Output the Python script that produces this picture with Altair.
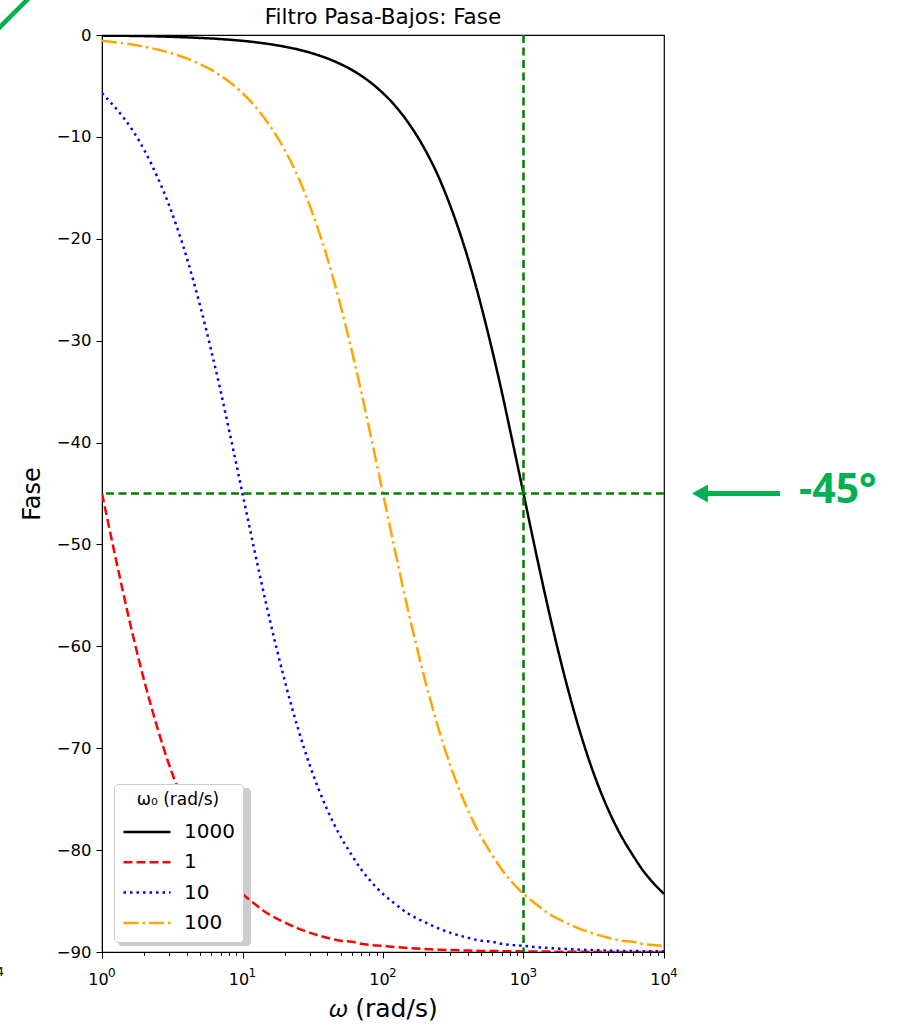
import altair as alt
import pandas as pd

# Frequency samples (rad/s) read along the x axis
w = [1, 2, 3, 4, 5, 6, 7, 8, 9, 10, 12, 15, 20, 25, 30, 40, 50, 60, 70, 80,
     100, 120, 150, 200, 250, 300, 400, 500, 600, 700, 800,
     1000, 1200, 1500, 2000, 2500, 3000, 4000, 5000, 6000, 7000, 8000, 10000]

# Phase (degrees) for each curve
fase_1000 = [-0.06, -0.11, -0.17, -0.23, -0.29, -0.34, -0.40, -0.46, -0.52, -0.57,
             -0.69, -0.86, -1.15, -1.43, -1.72, -2.29, -2.86, -3.43, -4.0, -4.57,
             -5.71, -6.84, -8.53, -11.3, -14.0, -16.7, -21.8, -26.6, -31.0, -35.0, -38.7,
             -45.0, -50.2, -56.3, -63.4, -68.2, -71.6, -76.0, -78.7, -80.5, -81.9, -82.9, -84.3]
fase_1 = [-45.0, -63.4, -71.6, -76.0, -78.7, -80.5, -81.9, -82.9, -83.7, -84.3,
          -85.2, -86.2, -87.1, -87.7, -88.1, -88.6, -88.9, -89.0, -89.2, -89.3,
          -89.4, -89.5, -89.6, -89.7, -89.77, -89.81, -89.86, -89.89, -89.9, -89.92, -89.93,
          -89.94, -89.95, -89.96, -89.97, -89.98, -89.98, -89.99, -89.99, -89.99, -89.99, -89.99, -89.99]
fase_10 = [-5.7, -11.3, -16.7, -21.8, -26.6, -31.0, -35.0, -38.7, -42.0, -45.0,
           -50.2, -56.3, -63.4, -68.2, -71.6, -76.0, -78.7, -80.5, -81.9, -82.9,
           -84.3, -85.2, -86.2, -87.1, -87.7, -88.1, -88.6, -88.9, -89.0, -89.2, -89.3,
           -89.4, -89.5, -89.6, -89.7, -89.77, -89.81, -89.86, -89.89, -89.9, -89.92, -89.93, -89.94]
fase_100 = [-0.57, -1.15, -1.72, -2.29, -2.86, -3.43, -4.0, -4.57, -5.14, -5.71,
            -6.84, -8.53, -11.3, -14.0, -16.7, -21.8, -26.6, -31.0, -35.0, -38.7,
            -45.0, -50.2, -56.3, -63.4, -68.2, -71.6, -76.0, -78.7, -80.5, -81.9, -82.9,
            -84.3, -85.2, -86.2, -87.1, -87.7, -88.1, -88.6, -88.9, -89.0, -89.2, -89.3, -89.4]

series_names = ["1000", "1", "10", "100"]
series_vals = [fase_1000, fase_1, fase_10, fase_100]
series_colors = ["black", "red", "blue", "orange"]
series_dash = [[1, 0], [9, 4], [2.5, 4], [15, 4, 2.5, 4]]

# x-axis decade labels: 10^k
decades = [1, 10, 100, 1000, 10000]
exponents = ["0", "1", "2", "3", "4"]

# reference lines
ref_w = [1000]
ref_fase = [-45]

rows = []
for name, vals in zip(series_names, series_vals):
    for i, (x, y) in enumerate(zip(w, vals)):
        rows.append({"w": x, "fase": y, "w0": name, "order": i})
df = pd.DataFrame(rows)

W, H = 562, 917
FONT = "DejaVu Sans"

xscale = alt.Scale(type="log", domain=[1, 10000], nice=False)
yscale = alt.Scale(domain=[-90, 0], nice=False)

major = "indexof([1,10,100,1000,10000], datum.value) >= 0"
xticks = [m * 10 ** e for e in range(4) for m in range(1, 10)] + [10000]

legend = alt.Legend(
    title="ω₀ (rad/s)", orient="none", legendX=12, legendY=749,
    symbolType="stroke", symbolSize=2209, symbolStrokeWidth=2.5,
    clipHeight=22, rowPadding=8.3, labelOffset=12,
    labelFontSize=20, labelFont=FONT, labelColor="black",
    titleFontSize=17, titleFont=FONT, titleFontWeight="normal", titleColor="black",
    titleAnchor="middle", titlePadding=12,
    fillColor="white", strokeColor="#cccccc", cornerRadius=4, padding=8,
)

lines = alt.Chart(df).mark_line(strokeWidth=2.5, clip=True, interpolate="monotone").encode(
    x=alt.X("w:Q", scale=xscale, title="𝜔 (rad/s)",
            axis=alt.Axis(values=xticks,
                          labelExpr=major + " ? '10' : ''",
                          tickSize={"condition": {"test": major, "value": 6}, "value": 3.5},
                          grid=False, labelFontSize=16, labelFont=FONT, labelPadding=13,
                          labelOffset=-4, labelFlush=False, labelOverlap=False,
                          titleFontSize=25, titleFont=FONT, titleFontWeight="normal",
                          titlePadding=9, domainColor="black", tickColor="black",
                          labelColor="black", titleColor="black")),
    y=alt.Y("fase:Q", scale=yscale, title="Fase",
            axis=alt.Axis(values=list(range(-90, 1, 10)), grid=False, tickSize=6,
                          labelFontSize=16.5, labelFont=FONT, labelPadding=5,
                          titleFontSize=24, titleFont=FONT, titleFontWeight="normal",
                          titlePadding=12, domainColor="black", tickColor="black",
                          labelColor="black", titleColor="black")),
    color=alt.Color("w0:N", scale=alt.Scale(domain=series_names, range=series_colors), legend=legend),
    strokeDash=alt.StrokeDash("w0:N", scale=alt.Scale(domain=series_names, range=series_dash), legend=legend),
    order="order:Q",
    detail="w0:N",
)

# exponents of the decade tick labels
exp_df = pd.DataFrame({"w": decades, "e": exponents})
exps = alt.Chart(exp_df).mark_text(font=FONT, fontSize=12, color="black", align="left",
                                   baseline="top", dx=6, clip=False).encode(
    x=alt.X("w:Q", scale=xscale), y=alt.value(H + 16), text="e:N")

ref_df = pd.DataFrame({"w": ref_w, "fase": ref_fase})
vline = alt.Chart(ref_df).mark_rule(color="green", strokeWidth=2.5, strokeDash=[8, 4.5]).encode(
    x=alt.X("w:Q", scale=xscale))
hline = alt.Chart(ref_df).mark_rule(color="green", strokeWidth=2.5, strokeDash=[8, 4.5]).encode(
    y=alt.Y("fase:Q", scale=yscale))

# legend shadow
shadow = alt.Chart(ref_df).mark_rect(color="#aaaaaa", opacity=0.6, cornerRadius=4).encode(
    x=alt.value(16), x2=alt.value(149), y=alt.value(753), y2=alt.value(911))

# chart title as text
title = alt.Chart(pd.DataFrame({"t": ["Filtro Pasa-Bajos: Fase"]})).mark_text(
    font=FONT, fontSize=21.5, color="black", align="center", baseline="middle", clip=False).encode(
    x=alt.value(W / 2), y=alt.value(-17), text="t:N")

# annotation: arrow and -45°
ann_green = "#00B050"
arrow_shaft = alt.Chart(ref_df).mark_rule(color=ann_green, strokeWidth=5, clip=False).encode(
    x=alt.value(600), x2=alt.value(678), y=alt.Y("fase:Q", scale=yscale))
arrow_head = alt.Chart(ref_df).mark_point(shape="triangle-left", filled=True, color=ann_green,
                                          opacity=1, size=330, clip=False).encode(
    x=alt.value(598), y=alt.Y("fase:Q", scale=yscale))
ann_text = alt.Chart(pd.DataFrame({"fase": ref_fase, "t": ["-45°"]})).mark_text(
    color=ann_green, font="Open Sans", fontWeight="bold", fontSize=41, align="left",
    baseline="middle", dy=-3, clip=False).encode(
    x=alt.value(697), y=alt.Y("fase:Q", scale=yscale), text="t:N")

# decorations cropped at the edges of the picture
slash = alt.Chart(ref_df).mark_rule(color=ann_green, strokeWidth=4.5, clip=False).encode(
    x=alt.value(-106), y=alt.value(-4), x2=alt.value(-70), y2=alt.value(-40))
four = alt.Chart(pd.DataFrame({"t": ["4"]})).mark_text(
    font=FONT, fontSize=12, align="center", baseline="middle", color="black", clip=False).encode(
    x=alt.value(-102), y=alt.value(937), text="t:N")

chart = alt.layer(shadow, lines, vline, hline, exps, title, arrow_shaft, arrow_head, ann_text, slash, four).properties(
    width=W, height=H,
    autosize=alt.AutoSizeParams(type="none"),
    padding={"left": 102, "top": 35, "right": 233, "bottom": 81},
    background="white",
).configure_view(stroke="black", strokeWidth=1.2)

chart.save("out.html", embed_options={"renderer": "svg", "actions": False})
